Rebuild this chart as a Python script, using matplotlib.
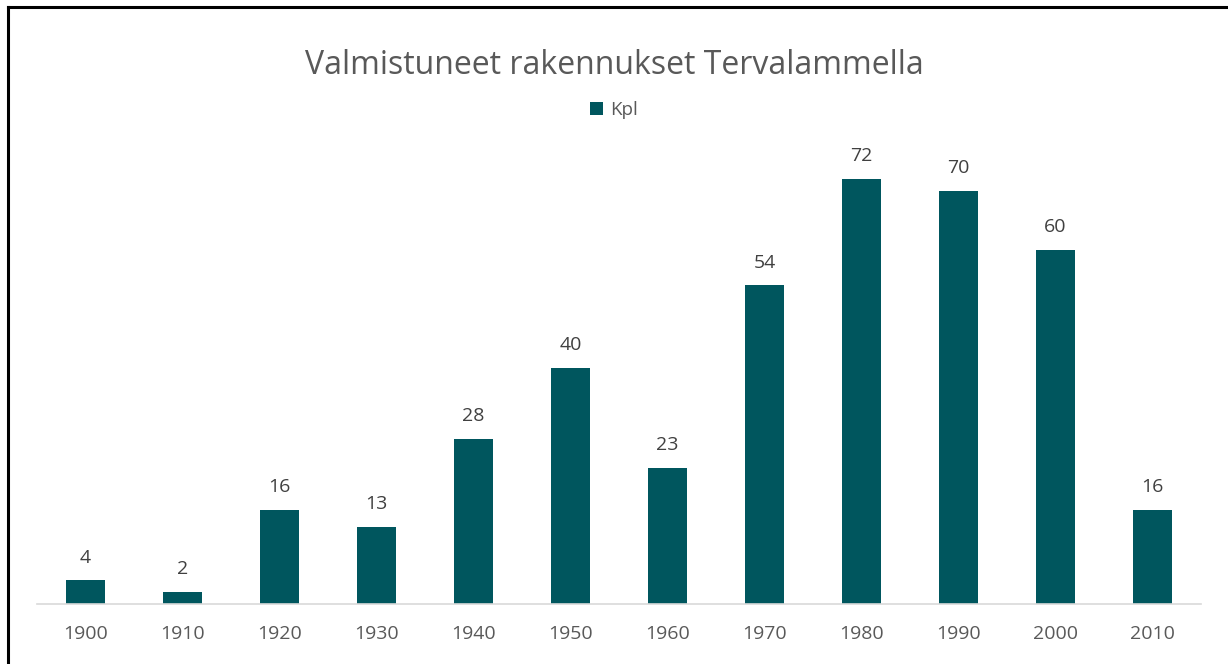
import matplotlib.pyplot as plt
from matplotlib.lines import Line2D

years = ['1900', '1910', '1920', '1930', '1940', '1950', '1960', '1970', '1980', '1990', '2000', '2010']
kpl = [4, 2, 16, 13, 28, 40, 23, 54, 72, 70, 60, 16]

BAR = '#00565E'
TXT = '#595959'
plt.rcParams['font.family'] = ['Open Sans', 'DejaVu Sans']

fig = plt.figure(figsize=(12.28, 6.64), dpi=100)
ax = fig.add_axes([37 / 1228, 1 - 604 / 664, 1164 / 1228, 472 / 664])

x = range(len(years))
bars = ax.bar(x, kpl, width=0.4, color=BAR, label='Kpl')
for b, v in zip(bars, kpl):
    ax.annotate(str(v), (b.get_x() + b.get_width() / 2, v), xytext=(0, 10),
                textcoords='offset points', ha='center', va='bottom',
                fontsize=14, color='#404040')

ax.set_xlim(-0.5, len(years) - 0.5)
ax.set_ylim(0, 80)
ax.set_xticks(list(x))
ax.set_xticklabels(years, fontsize=14, color=TXT)
ax.tick_params(axis='x', length=0, pad=15)
ax.set_yticks([])
for s in ['top', 'right', 'left']:
    ax.spines[s].set_visible(False)
ax.spines['bottom'].set_color('#D9D9D9')
ax.spines['bottom'].set_linewidth(1.2)

fig.text(0.5, 1 - 66 / 664, 'Valmistuneet rakennukset Tervalammella', ha='center', va='center',
         fontsize=23, color=TXT)
fig.legend(handles=[bars], labels=['Kpl'], loc='center', bbox_to_anchor=(0.5, 1 - 110 / 664),
           frameon=False, fontsize=13.5, labelcolor=TXT, handlelength=0.7, handleheight=0.7,
           handletextpad=0.4)

# outer frame (top and left edges visible)
fig.add_artist(Line2D([7.5 / 1228, 1], [1 - 6.5 / 664] * 2, transform=fig.transFigure, color='black', lw=2.2))
fig.add_artist(Line2D([7.5 / 1228] * 2, [0, 1 - 6.5 / 664], transform=fig.transFigure, color='black', lw=2.2))

fig.savefig('out.png', dpi=100)
